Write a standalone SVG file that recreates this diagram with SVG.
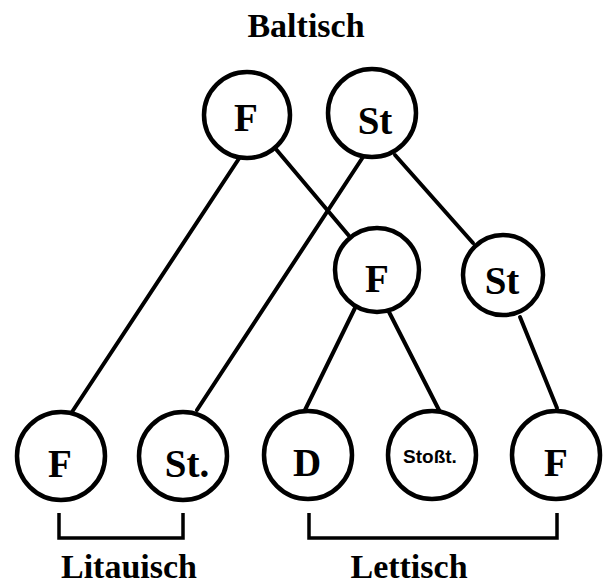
<svg xmlns="http://www.w3.org/2000/svg" width="604" height="588" viewBox="0 0 604 588">
<style>
.edge{stroke:#000;stroke-width:4;fill:none;stroke-linecap:round}
.node circle{fill:#fff;stroke:#000;stroke-width:4.5}
.lbl{font-family:"Liberation Serif","Times New Roman",serif;font-weight:bold;font-size:39px;text-anchor:middle;fill:#000}
.small{font-family:"Liberation Sans",Arial,sans-serif;font-weight:bold;font-size:19px;text-anchor:middle;fill:#000}
.title{font-family:"Liberation Serif","Times New Roman",serif;font-weight:bold;font-size:34px;text-anchor:middle;fill:#000}
.bracket{stroke:#000;stroke-width:3.5;fill:none}
</style>
<rect width="604" height="588" fill="#fff"/>
<g id="connectors">
<line class="edge" x1="240" y1="157" x2="72" y2="412"/>
<line class="edge" x1="275" y1="148" x2="350" y2="237"/>
<line class="edge" x1="363" y1="157" x2="197" y2="410"/>
<line class="edge" x1="395" y1="155" x2="473" y2="243"/>
<line class="edge" x1="355" y1="308" x2="305" y2="410"/>
<line class="edge" x1="388" y1="310" x2="440" y2="412"/>
<line class="edge" x1="520" y1="317" x2="557" y2="408"/>
</g>
<g id="n-top-F" class="node"><circle cx="247" cy="115" r="43"/><text class="lbl" x="246" y="131">F</text></g>
<g id="n-top-St" class="node"><circle cx="372" cy="113" r="44"/><text class="lbl" x="375" y="134">St</text></g>
<g id="n-mid-F" class="node"><circle cx="377" cy="270" r="42"/><text class="lbl" x="377" y="292">F</text></g>
<g id="n-mid-St" class="node"><circle cx="503" cy="275" r="40"/><text class="lbl" x="502" y="294">St</text></g>
<g id="n-lit-F" class="node"><circle cx="61" cy="456" r="44"/><text class="lbl" x="60" y="477">F</text></g>
<g id="n-lit-St" class="node"><circle cx="183" cy="456" r="44"/><text class="lbl" x="187" y="477">St.</text></g>
<g id="n-let-D" class="node"><circle cx="308" cy="455" r="44"/><text class="lbl" x="307" y="476">D</text></g>
<g id="n-let-Stosst" class="node"><circle cx="432" cy="455" r="44"/><text class="small" x="430" y="463">Stoßt.</text></g>
<g id="n-let-F" class="node"><circle cx="556" cy="455" r="44"/><text class="lbl" x="556" y="476">F</text></g>
<g id="groups">
<path class="bracket" d="M59,513 V538 H183 V513"/>
<path class="bracket" d="M309,513 V538 H557 V513"/>
</g>
<text class="title" x="306" y="37" font-size="36">Baltisch</text>
<text class="title" x="129" y="578" font-size="32">Litauisch</text>
<text class="title" x="409" y="578" font-size="35">Lettisch</text>
</svg>
